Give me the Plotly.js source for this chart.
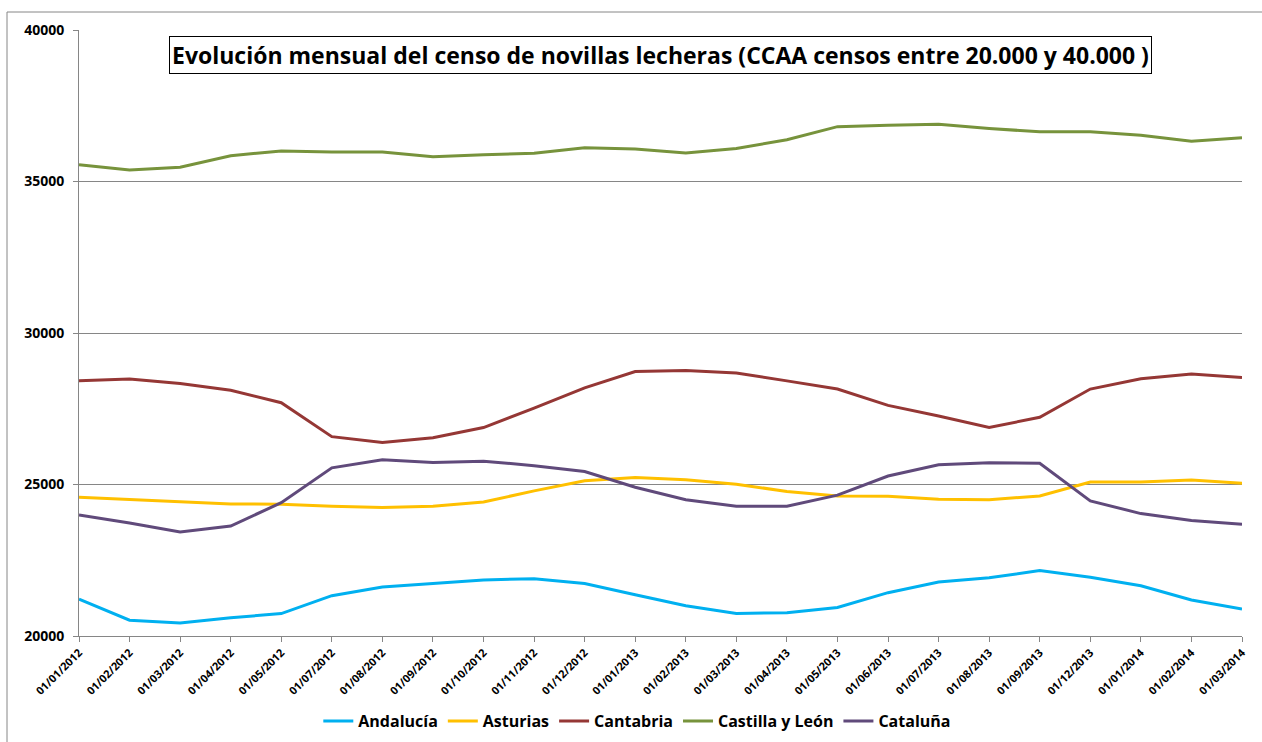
<!DOCTYPE html>
<html>
<head>
<meta charset="utf-8">
<script src="https://cdn.plot.ly/plotly-3.0.1.min.js"></script>
<style>html,body{margin:0;padding:0;background:#fff;}#chart{width:1262px;height:742px;}</style>
</head>
<body>
<div id="chart"></div>
<script>
const categories = ["01/01/2012","01/02/2012","01/03/2012","01/04/2012","01/05/2012","01/07/2012","01/08/2012","01/09/2012","01/10/2012","01/11/2012","01/12/2012","01/01/2013","01/02/2013","01/03/2013","01/04/2013","01/05/2013","01/06/2013","01/07/2013","01/08/2013","01/09/2013","01/12/2013","01/01/2014","01/02/2014","01/03/2014"];
const andalucia = [21220,20520,20430,20600,20740,21330,21620,21730,21850,21890,21730,21360,21000,20740,20770,20940,21430,21780,21920,22160,21940,21660,21190,20890];
const asturias = [24580,24500,24420,24360,24350,24280,24240,24280,24420,24790,25120,25230,25160,25010,24770,24620,24610,24510,24500,24620,25080,25080,25150,25040];
const cantabria = [28420,28480,28330,28110,27700,26580,26390,26540,26880,27520,28190,28730,28760,28680,28420,28150,27610,27260,26880,27220,28150,28490,28650,28530];
const castillaLeon = [35550,35380,35470,35850,36010,35970,35970,35820,35880,35930,36110,36070,35940,36090,36380,36810,36860,36890,36750,36640,36640,36530,36330,36440];
const cataluna = [23990,23730,23430,23630,24400,25550,25820,25730,25770,25620,25430,24910,24500,24280,24280,24650,25280,25650,25720,25700,24460,24040,23810,23690];
const seriesNames = ["Andalucía","Asturias","Cantabria","Castilla y León","Cataluña"];
const seriesColors = ["#00B0F0","#FFC000","#953735","#77933C","#604A7B"];
const titleText = "Evolución mensual del censo de novillas lecheras (CCAA censos entre 20.000 y 40.000 )";

const allValues = [andalucia, asturias, cantabria, castillaLeon, cataluna];
const FONT = "'Open Sans', Lato, sans-serif";

const traces = allValues.map((vals, i) => ({
  type: 'scatter',
  mode: 'lines',
  x: categories,
  y: vals,
  name: seriesNames[i],
  line: {color: seriesColors[i], width: 3},
  hoverinfo: 'x+y+name'
}));

const layout = {
  width: 1262,
  height: 742,
  margin: {l: 79, r: 20, t: 30, b: 106},
  paper_bgcolor: '#fff',
  plot_bgcolor: '#fff',
  font: {family: FONT, color: '#000'},
  showlegend: true,
  legend: {
    orientation: 'h',
    xref: 'container', yref: 'container',
    x: 0.505, xanchor: 'center',
    y: 0.028, yanchor: 'middle',
    font: {family: FONT, size: 16, weight: 'bold', color: '#000'},
    itemwidth: 30,
    tracegroupgap: 0
  },
  xaxis: {
    type: 'category',
    range: [0, categories.length - 1],
    showline: true, linecolor: '#868686', linewidth: 1,
    ticks: 'outside', ticklen: 5, tickcolor: '#868686',
    tickangle: -45,
    tickfont: {family: FONT, size: 11, weight: 'bold', color: '#000'},
    showgrid: false, zeroline: false
  },
  yaxis: {
    range: [20000, 40000],
    tick0: 20000, dtick: 5000,
    tickformat: 'd',
    showline: true, linecolor: '#868686', linewidth: 1,
    ticks: 'outside', ticklen: 5, tickcolor: '#868686',
    ticklabelstandoff: 6,
    tickfont: {family: FONT, size: 14, weight: 'bold', color: '#000'},
    showgrid: true, gridcolor: '#868686', gridwidth: 1,
    zeroline: false
  },
  annotations: [{
    xref: 'paper', yref: 'paper',
    x: 0.5, y: 0.958, xanchor: 'center', yanchor: 'middle',
    text: titleText, showarrow: false,
    font: {family: FONT, size: 23, weight: 'bold', color: '#000'},
    bordercolor: '#000', borderwidth: 1, borderpad: 2, bgcolor: '#fff'
  }],
  shapes: [{
    type: 'rect', xref: 'paper', yref: 'paper', layer: 'below',
    x0: (7 - 79) / 1163, x1: 1.2,
    y0: -0.4, y1: (636 - 12) / 606,
    line: {color: '#868686', width: 1}, fillcolor: 'rgba(0,0,0,0)'
  }]
};

Plotly.newPlot('chart', traces, layout, {displayModeBar: false, responsive: false});
</script>
</body>
</html>
